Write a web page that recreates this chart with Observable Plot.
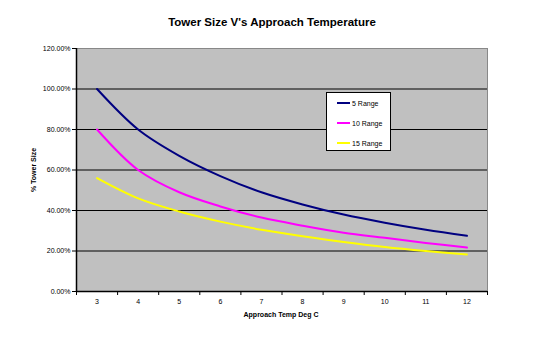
<!DOCTYPE html>
<html><head><meta charset="utf-8">
<script src="https://cdn.jsdelivr.net/npm/d3@7"></script>
<script src="https://cdn.jsdelivr.net/npm/@observablehq/plot@0.6"></script>
<style>
body{margin:0;background:#fff;font-family:"Liberation Sans",Arial,sans-serif;}
#wrap{position:relative;width:543px;height:341px;}
#legend{position:absolute;left:326px;top:92px;width:65px;height:59px;background:#fff;border:1px solid #000;box-sizing:border-box;font-size:7px;font-family:"Liberation Sans",Arial,sans-serif;}
#legend .it{position:absolute;left:10px;height:10px;display:flex;align-items:center;}
#legend .sw{width:13px;height:2px;margin-right:2px;}
</style></head><body>
<div id="wrap"></div>
<script>
const approach = [3,4,5,6,7,8,9,10,11,12];
const range5  = [100,80,67,57,49,43,38,34,30.5,27.5];
const range10 = [80,60,49,42,36.5,32.5,29,26.5,24,21.7];
const range15 = [56,46,39.5,34.5,30.5,27.3,24.5,22,20,18.3];
const seriesNames = ["5 Range","10 Range","15 Range"];
const seriesColors = ["#000080","#ff00ff","#ffff00"];
const yTicks = [0,20,40,60,80,100,120];
const gridTicks = [20,40,60,80,100];
const xBounds = d3.range(2.5, 13, 1);

const data = [];
[range5, range10, range15].forEach((s,i)=>s.forEach((v,j)=>data.push({x:approach[j], y:v, series:seriesNames[i]})));

const chart = Plot.plot({
  width:543, height:341,
  marginLeft:76, marginRight:56, marginTop:48, marginBottom:50,
  style:{fontFamily:'"Liberation Sans",Arial,sans-serif', fontSize:"7px", background:"#fff", color:"#000"},
  x:{domain:[2.5,12.5]},
  y:{domain:[0,120]},
  color:{domain:seriesNames, range:seriesColors},
  marks:[
    Plot.frame({fill:"#c0c0c0", stroke:"#888", strokeWidth:1}),
    Plot.ruleY(gridTicks, {stroke:"#000", strokeWidth:1}),
    Plot.axisY({ticks:yTicks, tickFormat:d=>d.toFixed(2)+"%", tickSize:4, tickPadding:2, label:null}),
    Plot.axisX({ticks:approach, tickSize:0, tickPadding:8, tickFormat:d=>String(d), label:null}),
    Plot.axisX({ticks:xBounds, tickSize:4, tickFormat:()=>"", label:null}),
    Plot.ruleX([2.5], {stroke:"#000", strokeWidth:1.5}),
    Plot.ruleY([0], {stroke:"#000", strokeWidth:1.5}),
    Plot.line(data, {x:"x", y:"y", z:"series", stroke:"series", strokeWidth:2, curve:"catmull-rom"})
  ]
});
document.getElementById("wrap").appendChild(chart);
const svg = d3.select(chart);
svg.append("text").attr("x",272).attr("y",26).attr("text-anchor","middle").attr("font-size","11.5px").attr("font-weight","bold").text("Tower Size V's Approach Temperature");
svg.append("text").attr("x",281).attr("y",317).attr("text-anchor","middle").attr("font-size","7px").attr("font-weight","bold").text("Approach Temp Deg C");
svg.append("text").attr("transform","translate(36,170) rotate(-90)").attr("text-anchor","middle").attr("font-size","7px").attr("font-weight","bold").text("% Tower Size");

const leg = document.createElement("div");
leg.id="legend";
seriesNames.forEach((n,i)=>{
  const it=document.createElement("div"); it.className="it"; it.style.top=(5+i*20)+"px";
  const sw=document.createElement("div"); sw.className="sw"; sw.style.background=seriesColors[i];
  it.appendChild(sw); it.appendChild(document.createTextNode(n)); leg.appendChild(it);
});
document.getElementById("wrap").appendChild(leg);
</script></body></html>
